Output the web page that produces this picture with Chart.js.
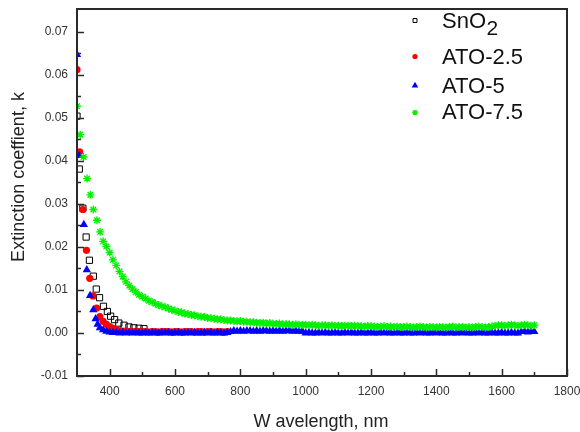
<!DOCTYPE html>
<html>
<head>
<meta charset="utf-8">
<script src="https://cdn.jsdelivr.net/npm/chart.js@4.4.1/dist/chart.umd.min.js"></script>
<style>
  html, body { margin: 0; padding: 0; background: #fff; }
  canvas { display: block; }
</style>
</head>
<body>
<canvas id="chart" width="580" height="432"></canvas>
<script>
// tick values
const xTickValues = [400, 600, 800, 1000, 1200, 1400, 1600, 1800];
const xMinorTicks = [500, 700, 900, 1100, 1300, 1500, 1700];
const yTickValues = [-0.01, 0, 0.01, 0.02, 0.03, 0.04, 0.05, 0.06, 0.07];
const yMinorTicks = [-0.005, 0.005, 0.015, 0.025, 0.035, 0.045, 0.055, 0.065];

// SnO2 (only the visible part, the rest sits under the ATO-5 band)
const sno2Wl = [300, 307, 318, 328, 338, 350, 359, 369, 381, 393, 403, 415, 428, 444, 459, 474, 490, 505];
const sno2K = [0.0504, 0.0381, 0.0290, 0.0223, 0.0169, 0.0132, 0.0102, 0.0082, 0.0062, 0.0050, 0.0039, 0.0031, 0.0023, 0.0018, 0.0014, 0.0012, 0.0011, 0.0010];

// ATO-2.5
const ato25Wl = [300, 308, 318, 329, 339, 349, 360, 370, 380, 390, 400, 410, 420,
  430, 440, 450, 460, 470, 480, 490, 500, 510, 520, 530, 540, 550, 560, 570, 580, 590,
  600, 610, 620, 630, 640, 650, 660, 670, 680, 690, 700, 710, 720, 730, 740, 750, 760];
const ato25K = [0.0612, 0.0421, 0.0287, 0.0192, 0.0127, 0.0086, 0.0058, 0.0038, 0.0027, 0.0020, 0.0015, 0.0011, 0.0008,
  0.0005, 0.0004, 0.0004, 0.0003, 0.0003, 0.0004, 0.0003, 0.0003, 0.0003, 0.0002, 0.0003, 0.0003, 0.0002, 0.0003, 0.0003, 0.0003, 0.0002,
  0.0003, 0.0003, 0.0002, 0.0003, 0.0003, 0.0003, 0.0002, 0.0003, 0.0003, 0.0002, 0.0003, 0.0003, 0.0002, 0.0003, 0.0003, 0.0002, 0.0003];

// ATO-5
const ato5Wl = [300, 307, 321, 330, 340, 350, 357, 363, 370, 380,
  390, 400, 410, 420, 430, 440, 450, 460, 470, 480, 490, 500, 510, 520, 530, 540, 550, 560, 570, 580, 590,
  600, 610, 620, 630, 640, 650, 660, 670, 680, 690, 700, 710, 720, 730, 740, 750, 760, 770, 780, 790,
  800, 810, 820, 830, 840, 850, 860, 870, 880, 890, 900, 910, 920, 930, 940, 950, 960, 970, 980, 990,
  1000, 1010, 1020, 1030, 1040, 1050, 1060, 1070, 1080, 1090, 1100, 1110, 1120, 1130, 1140, 1150, 1160, 1170, 1180, 1190,
  1200, 1210, 1220, 1230, 1240, 1250, 1260, 1270, 1280, 1290, 1300, 1310, 1320, 1330, 1340, 1350, 1360, 1370, 1380, 1390,
  1400, 1410, 1420, 1430, 1440, 1450, 1460, 1470, 1480, 1490, 1500, 1510, 1520, 1530, 1540, 1550, 1560, 1570, 1580, 1590,
  1600, 1610, 1620, 1630, 1640, 1650, 1660, 1670, 1680, 1690, 1700];
const ato5K = [0.0647, 0.0412, 0.0252, 0.0147, 0.0087, 0.0054, 0.0033, 0.0020, 0.0012, 0.0007,
  0.0004, 0.0002, 0.0001, 0.0001, 0.0000, 0.0001, 0.0000, 0.0001, 0.0000, 0.0001, 0.0000,
  0.0000, 0.0001, 0.0000, 0.0001, 0.0000, 0.0000, 0.0001, 0.0000, 0.0001, 0.0000,
  0.0000, 0.0001, 0.0000, 0.0000, 0.0001, 0.0000, 0.0001, 0.0000, 0.0000, 0.0001,
  0.0000, 0.0001, 0.0000, 0.0001, 0.0000, 0.0000, 0.0001, 0.0003, 0.0005, 0.0004,
  0.0005, 0.0004, 0.0005, 0.0005, 0.0004, 0.0005, 0.0004, 0.0005, 0.0005, 0.0004,
  0.0005, 0.0004, 0.0005, 0.0004, 0.0005, 0.0005, 0.0004, 0.0005, 0.0004, 0.0004,
  0.0000, 0.0001, 0.0000, 0.0000, 0.0001, 0.0000, 0.0001, 0.0000, 0.0000, 0.0001,
  0.0000, 0.0000, 0.0001, 0.0000, 0.0001, 0.0000, 0.0000, 0.0001, 0.0000, 0.0000,
  0.0001, 0.0000, 0.0000, 0.0001, 0.0000, 0.0001, 0.0000, 0.0000, 0.0001, 0.0000,
  0.0000, 0.0001, 0.0000, 0.0000, 0.0001, 0.0000, 0.0001, 0.0000, 0.0000, 0.0001,
  0.0000, 0.0001, 0.0000, 0.0000, 0.0001, 0.0000, 0.0000, 0.0001, 0.0000, 0.0001,
  0.0000, 0.0000, 0.0001, 0.0000, 0.0001, 0.0000, 0.0000, 0.0001, 0.0000, 0.0000,
  0.0001, 0.0000, 0.0000, 0.0001, 0.0000, 0.0000, 0.0003, 0.0003, 0.0002, 0.0003, 0.0003];

// ATO-7.5
const ato75Wl = [300, 310, 320, 331, 341, 350, 361, 371, 380,
  390, 400, 410, 420, 430, 440, 450, 460, 470, 480, 490, 500, 510, 520, 530, 540, 550, 560, 570, 580, 590,
  600, 610, 620, 630, 640, 650, 660, 670, 680, 690, 700, 710, 720, 730, 740, 750, 760, 770, 780, 790,
  800, 810, 820, 830, 840, 850, 860, 870, 880, 890, 900, 910, 920, 930, 940, 950, 960, 970, 980, 990,
  1000, 1010, 1020, 1030, 1040, 1050, 1060, 1070, 1080, 1090, 1100, 1110, 1120, 1130, 1140, 1150, 1160, 1170, 1180, 1190,
  1200, 1210, 1220, 1230, 1240, 1250, 1260, 1270, 1280, 1290, 1300, 1310, 1320, 1330, 1340, 1350, 1360, 1370, 1380, 1390,
  1400, 1410, 1420, 1430, 1440, 1450, 1460, 1470, 1480, 1490, 1500, 1510, 1520, 1530, 1540, 1550, 1560, 1570, 1580, 1590,
  1600, 1610, 1620, 1630, 1640, 1650, 1660, 1670, 1680, 1690, 1700];
const ato75K = [0.0527, 0.0461, 0.0409, 0.0359, 0.0321, 0.0287, 0.0262, 0.0235, 0.0213,
  0.0201, 0.0187, 0.0170, 0.0157, 0.0143, 0.0131, 0.0119, 0.0110, 0.0102, 0.0095, 0.0089,
  0.0084, 0.0080, 0.0075, 0.0072, 0.0068, 0.0065, 0.0062, 0.0060, 0.0057, 0.0054,
  0.0052, 0.0049, 0.0048, 0.0045, 0.0044, 0.0042, 0.0041, 0.0039, 0.0038, 0.0037,
  0.0035, 0.0035, 0.0033, 0.0032, 0.0032, 0.0030, 0.0029, 0.0029, 0.0028, 0.0027,
  0.0028, 0.0026, 0.0026, 0.0025, 0.0025, 0.0024, 0.0023, 0.0024, 0.0022, 0.0023,
  0.0022, 0.0021, 0.0022, 0.0020, 0.0021, 0.0020, 0.0019, 0.0020, 0.0019, 0.0019,
  0.0019, 0.0018, 0.0019, 0.0018, 0.0017, 0.0018, 0.0018, 0.0017, 0.0018, 0.0017,
  0.0017, 0.0016, 0.0017, 0.0017, 0.0016, 0.0017, 0.0016, 0.0016, 0.0015, 0.0016,
  0.0016, 0.0015, 0.0014, 0.0015, 0.0016, 0.0014, 0.0015, 0.0014, 0.0015, 0.0014,
  0.0014, 0.0015, 0.0014, 0.0013, 0.0014, 0.0015, 0.0014, 0.0013, 0.0014, 0.0014,
  0.0013, 0.0014, 0.0014, 0.0013, 0.0014, 0.0015, 0.0013, 0.0014, 0.0014, 0.0013,
  0.0014, 0.0013, 0.0014, 0.0015, 0.0014, 0.0013, 0.0014, 0.0015, 0.0017, 0.0018,
  0.0018, 0.0017, 0.0018, 0.0019, 0.0018, 0.0017, 0.0018, 0.0019, 0.0018, 0.0017, 0.0018];

const FONT = "'Liberation Sans', Arial, sans-serif";
const AXIS_COLOR = '#2a2a2a';

const toPoints = (xs, ys) => xs.map((x, i) => ({ x: x, y: ys[i] }));

const series = [
  { label: 'SnO2', data: toPoints(sno2Wl, sno2K), pointStyle: 'rect', pointRadius: 4.4,
    backgroundColor: 'rgba(0,0,0,0)', borderColor: '#000', pointBorderWidth: 1, order: 4 },
  { label: 'ATO-2.5', data: toPoints(ato25Wl, ato25K), pointStyle: 'circle', pointRadius: 3.6,
    backgroundColor: '#ff0000', borderColor: '#ff0000', pointBorderWidth: 0, order: 3 },
  { label: 'ATO-5', data: toPoints(ato5Wl, ato5K), pointStyle: 'triangle', pointRadius: 4.8,
    backgroundColor: '#0000ff', borderColor: '#0000ff', pointBorderWidth: 0, order: 2 },
  { label: 'ATO-7.5', data: toPoints(ato75Wl, ato75K), pointStyle: 'star', pointRadius: 4,
    backgroundColor: '#00ff00', borderColor: '#00f000', pointBorderWidth: 1.3, order: 1 }
];

// inward ticks, frame and axis titles
const framePlugin = {
  id: 'frame',
  afterDatasetsDraw(chart) {
    const { ctx, chartArea: a, scales } = chart;
    ctx.save();
    ctx.strokeStyle = AXIS_COLOR;
    ctx.lineWidth = 1.5;
    ctx.beginPath();
    const tick = (vals, len, axis) => {
      vals.forEach(v => {
        if (axis === 'x') {
          const px = Math.round(scales.x.getPixelForValue(v)) + 0.5;
          ctx.moveTo(px, a.bottom);
          ctx.lineTo(px, a.bottom - len);
        } else {
          const py = Math.round(scales.y.getPixelForValue(v)) + 0.5;
          ctx.moveTo(a.left, py);
          ctx.lineTo(a.left + len, py);
        }
      });
    };
    tick(xTickValues, 7, 'x');
    tick(xMinorTicks, 4, 'x');
    tick(yTickValues, 7, 'y');
    tick(yMinorTicks, 4, 'y');
    ctx.stroke();
    ctx.lineWidth = 2;
    ctx.strokeRect(a.left, a.top, a.right - a.left, a.bottom - a.top);

    ctx.fillStyle = '#222';
    ctx.font = '18px ' + FONT;
    ctx.textAlign = 'center';
    ctx.textBaseline = 'alphabetic';
    ctx.fillText('W avelength, nm', 321, 427);
    ctx.translate(24, 177);
    ctx.rotate(-Math.PI / 2);
    ctx.fillText('Extinction coeffient, k', 0, 0);
    ctx.restore();
  }
};

// legend drawn inside the plot, top right
const legendPlugin = {
  id: 'innerLegend',
  afterDraw(chart) {
    const { ctx } = chart;
    const mx = 415, tx = 442;
    const rows = [
      { ds: 0, y: 20.5, base: 27.5, r: 2.8 },
      { ds: 1, y: 56.5, base: 63.5, r: 2.6 },
      { ds: 2, y: 85.5, base: 92.5, r: 3.8 },
      { ds: 3, y: 112.5, base: 118.5, r: 2.8 }
    ];
    ctx.save();
    rows.forEach(row => {
      const d = series[row.ds];
      ctx.fillStyle = d.backgroundColor;
      ctx.strokeStyle = d.borderColor;
      ctx.lineWidth = d.pointBorderWidth;
      Chart.helpers.drawPoint(ctx, {
        pointStyle: d.pointStyle, radius: row.r, rotation: 0, borderWidth: d.pointBorderWidth
      }, mx, row.y);
      ctx.fillStyle = '#111';
      ctx.font = '22px ' + FONT;
      ctx.textAlign = 'left';
      ctx.textBaseline = 'alphabetic';
      if (row.ds === 0) {
        ctx.fillText('SnO', tx, row.base);
        const w = ctx.measureText('SnO').width;
        ctx.font = '21px ' + FONT;
        ctx.fillText('2', tx + w + 0.5, row.base + 7);
      } else {
        ctx.fillText(d.label, tx, row.base);
      }
    });
    ctx.restore();
  }
};

const noPad = s => { s.paddingLeft = 0; s.paddingRight = 0; s.paddingTop = 0; s.paddingBottom = 0; };

Chart.defaults.font.family = FONT;
Chart.defaults.font.size = 12;
Chart.defaults.color = '#333';

new Chart(document.getElementById('chart'), {
  type: 'scatter',
  data: { datasets: series },
  options: {
    responsive: false,
    animation: false,
    devicePixelRatio: 1,
    layout: { padding: { top: 9, right: 13, left: 0, bottom: 0 } },
    plugins: { legend: { display: false }, tooltip: { enabled: false } },
    scales: {
      x: {
        type: 'linear',
        min: 300,
        max: 1800,
        grid: { display: false, drawTicks: false },
        border: { display: false },
        ticks: { padding: 8, maxRotation: 0, autoSkip: false, callback: v => String(v) },
        afterBuildTicks: s => { s.ticks = xTickValues.map(v => ({ value: v })); },
        afterFit: s => { s.height = 56; noPad(s); }
      },
      y: {
        type: 'linear',
        min: -0.01,
        max: 0.0753,
        grid: { display: false, drawTicks: false },
        border: { display: false },
        ticks: { padding: 9, autoSkip: false, callback: v => v.toFixed(2) },
        afterBuildTicks: s => { s.ticks = yTickValues.map(v => ({ value: v })); },
        afterFit: s => { s.width = 77; noPad(s); }
      }
    }
  },
  plugins: [framePlugin, legendPlugin]
});
</script>
</body>
</html>
